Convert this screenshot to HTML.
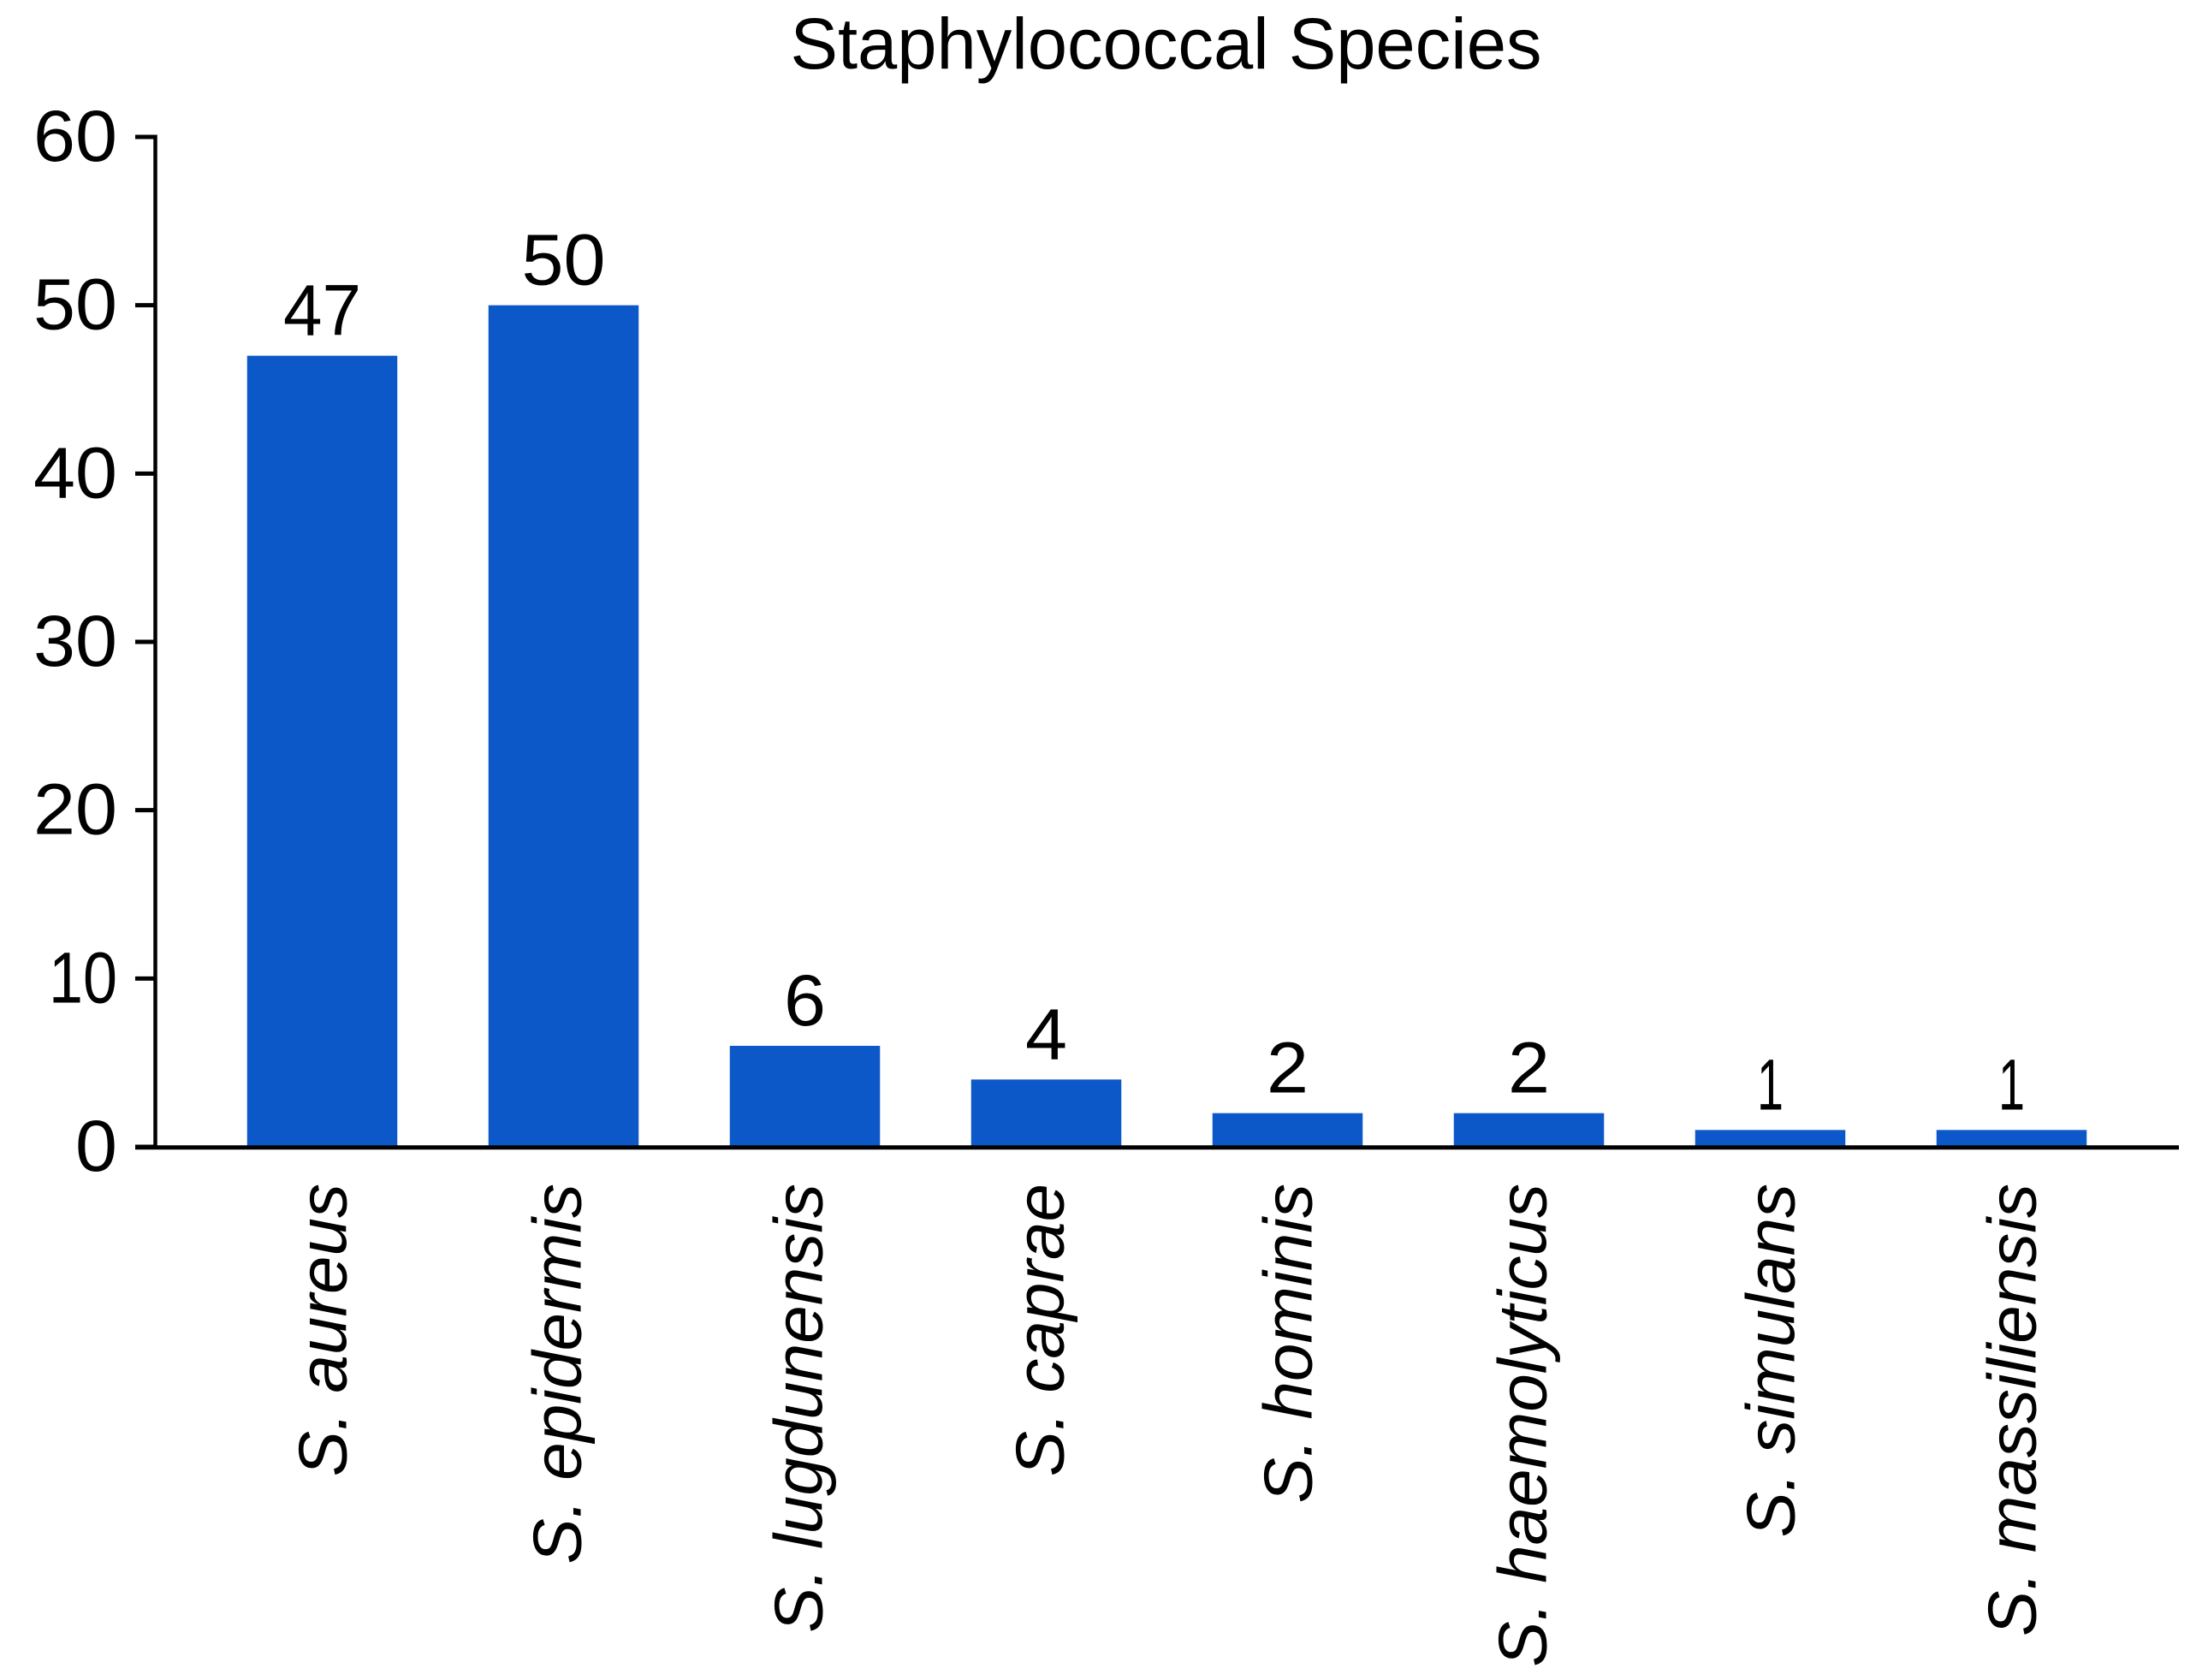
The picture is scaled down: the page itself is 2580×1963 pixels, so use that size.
<!DOCTYPE html>
<html lang="en">
<head>
<meta charset="utf-8">
<title>Staphylococcal Species</title>
<style>
  html, body { margin: 0; padding: 0; background: #ffffff; }
  svg { display: block; }
  text { font-family: "Liberation Sans", sans-serif; fill: #000000; }
</style>
</head>
<body>
<svg id="chart" xmlns="http://www.w3.org/2000/svg" width="2580" height="1963" viewBox="0 0 2580 1963">
  <rect x="0" y="0" width="2580" height="1963" fill="#ffffff"></rect>
  <text x="1362.5" y="80" font-size="84" text-anchor="middle" textLength="878" lengthAdjust="spacingAndGlyphs">Staphylococcal Species</text>
  <g id="bars"></g>
  <g id="value-labels"></g>
  <g id="y-axis"></g>
  <g id="x-axis"></g>
</svg>
<script>
const categories = ["S. aureus", "S. epidermis", "S. lugdunensis", "S. caprae", "S. hominis", "S. haemolyticus", "S. simulans", "S. massiliensis"];
const counts = [47, 50, 6, 4, 2, 2, 1, 1];
const yTicks = [0, 10, 20, 30, 40, 50, 60];

const NS = "http://www.w3.org/2000/svg";
const plotLeft = 181.5;
const plotRight = 2546;
const zeroY = 1340;
const topY = 160;
const yMax = 60;
const firstCenter = 376.5;
const bandStep = 282;
const barWidth = 175.5;

function yScale(v) { return zeroY - (v / yMax) * (zeroY - topY); }
function xScale(i) { return firstCenter + i * bandStep; }
function make(tag, attrs, parent) {
  const el = document.createElementNS(NS, tag);
  for (const k in attrs) el.setAttribute(k, attrs[k]);
  parent.appendChild(el);
  return el;
}
// Advance width for a numeric label: the reference font has a narrow "1" and a tight "7".
function numberWidth(v) {
  let w = 0;
  for (const d of String(v)) {
    w += d === "1" ? 31 : d === "7" ? 42 : 49;
  }
  return w;
}

const barsG = document.getElementById("bars");
const valuesG = document.getElementById("value-labels");
const yG = document.getElementById("y-axis");
const xG = document.getElementById("x-axis");

counts.forEach(function (v, i) {
  const bar = make("rect", { x: xScale(i) - barWidth / 2, y: yScale(v), width: barWidth, height: zeroY - yScale(v), fill: "#0D58C8" }, barsG);
  
  

  const label = make("text", { x: xScale(i), y: yScale(v) - 24, "font-size": 84, "text-anchor": "middle", textLength: numberWidth(v), lengthAdjust: "spacingAndGlyphs" }, valuesG);
  label.textContent = String(v);
  
  
});

yTicks.forEach(function (t) {
  const tick = make("line", { x1: 158, x2: plotLeft, y1: yScale(t), y2: yScale(t), stroke: "#000", "stroke-width": 5 }, yG);
  
  

  const label = make("text", { x: 137, y: yScale(t) + 28, "font-size": 84, "text-anchor": "end", textLength: numberWidth(t), lengthAdjust: "spacingAndGlyphs" }, yG);
  label.textContent = String(t);
  
  
});

const yLine = make("line", { x1: plotLeft, x2: plotLeft, y1: topY - 2.5, y2: zeroY, stroke: "#000", "stroke-width": 4.5 }, yG);



const xLine = make("line", { x1: 158, x2: plotRight, y1: zeroY + 0.7, y2: zeroY + 0.7, stroke: "#000", "stroke-width": 5 }, xG);



categories.forEach(function (c, i) {
  // Labels are centred on their ink box, so names with descenders sit closer to the bar centre.
  const bx = xScale(i) + (/[gpqy]/.test(c) ? 20 : 28);
  const by = 1383;
  const label = make("text", { x: bx, y: by, "font-size": 80, "font-style": "italic", "text-anchor": "end", transform: "rotate(-90 " + bx + " " + by + ")" }, xG);
  label.textContent = c;
  
  
});
</script>
</body>
</html>
